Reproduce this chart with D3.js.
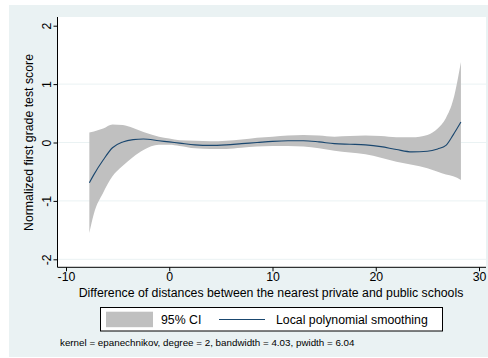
<!DOCTYPE html>
<html>
<head>
<meta charset="utf-8">
<script src="https://cdn.jsdelivr.net/npm/d3@7"></script>
<style>
  body { margin: 0; background: #fff; }
  text { font-family: "Liberation Sans", Arial, sans-serif; fill: #000; }
</style>
</head>
<body>
<div id="chart"></div>
<script>
// Data
const xVals = [-7.74, -7.3, -6.4, -5.5, -4.5, -3.5, -2.5, -1, 0, 1, 2.5, 4, 5.5, 7, 8.5, 10, 11.5, 13, 14.5, 16, 17.5, 19, 20.5, 22, 23.5, 25, 26, 26.8, 27.5, 28.25];
const fitVals = [-0.69, -0.55, -0.30, -0.09, 0.01, 0.05, 0.06, 0.03, 0.01, -0.01, -0.04, -0.05, -0.04, -0.02, 0.0, 0.02, 0.03, 0.03, 0.01, -0.02, -0.03, -0.04, -0.07, -0.12, -0.16, -0.15, -0.11, -0.05, 0.13, 0.35];
const hiVals = [0.17, 0.19, 0.24, 0.31, 0.30, 0.25, 0.18, 0.10, 0.07, 0.04, 0.03, 0.02, 0.03, 0.05, 0.08, 0.10, 0.12, 0.13, 0.12, 0.10, 0.11, 0.12, 0.11, 0.09, 0.09, 0.13, 0.24, 0.42, 0.73, 1.38];
const loVals = [-1.55, -1.22, -0.86, -0.58, -0.40, -0.25, -0.13, -0.04, -0.04, -0.06, -0.10, -0.11, -0.11, -0.09, -0.07, -0.06, -0.06, -0.07, -0.10, -0.14, -0.17, -0.20, -0.26, -0.33, -0.38, -0.44, -0.50, -0.55, -0.58, -0.64];
const xTicks = [-10, 0, 10, 20, 30];
const yTicks = [-2, -1, 0, 1, 2];
const gridTicks = [-2, -1, 0, 1];

const W = 488, H = 358;
const navy = "#1a476f", bandColor = "#c0c0c0", bg = "#eaf2f3";
const fs = "12.3px";

const svg = d3.select("#chart").append("svg")
  .attr("width", W).attr("height", H);

// outer background and plot region
svg.append("rect").attr("x", 9).attr("y", 5).attr("width", W - 9).attr("height", 352).attr("fill", bg);
svg.append("rect").attr("x", 57.5).attr("y", 17).attr("width", 428.5).attr("height", 250).attr("fill", "#fff");

const x = d3.scaleLinear().domain([-10, 30]).range([66, 479]);
const y = d3.scaleLinear().domain([-2, 2]).range([259.3, 25.7]);

// gridlines
svg.append("g").selectAll("line").data(gridTicks).enter().append("line")
  .attr("x1", 58).attr("x2", 486)
  .attr("y1", d => y(d)).attr("y2", d => y(d))
  .attr("stroke", bg).attr("stroke-width", 1);

const pts = xVals.map((v, i) => ({ x: v, fit: fitVals[i], hi: hiVals[i], lo: loVals[i] }));

// CI band
svg.append("path").datum(pts)
  .attr("fill", bandColor)
  .attr("d", d3.area().curve(d3.curveMonotoneX)
    .x(d => x(d.x)).y0(d => y(d.lo)).y1(d => y(d.hi)));

// fitted line
svg.append("path").datum(pts)
  .attr("fill", "none").attr("stroke", navy).attr("stroke-width", 1.1)
  .attr("d", d3.line().curve(d3.curveMonotoneX).x(d => x(d.x)).y(d => y(d.fit)));

// axes (plain hyphen minus, integer labels like the original)
const fmt = d => String(d);
const xAxis = svg.append("g").attr("transform", "translate(0,267.3)")
  .call(d3.axisBottom(x).tickValues(xTicks).tickFormat(fmt).tickSize(4).tickSizeOuter(0).tickPadding(1));
xAxis.select(".domain").attr("d", "M57.5,0H486");
xAxis.selectAll("text").style("font-size", fs).attr("font-family", null);

const yAxis = svg.append("g").attr("transform", "translate(57.5,0)")
  .call(d3.axisLeft(y).tickValues(yTicks).tickFormat(fmt).tickSize(4).tickSizeOuter(0));
yAxis.select(".domain").attr("d", "M0,17V267.3");
yAxis.selectAll("text")
  .style("font-size", fs)
  .attr("x", null)
  .attr("text-anchor", "middle")
  .attr("transform", "translate(-11,0) rotate(-90)")
  .attr("dy", "0.35em");
svg.selectAll(".domain, .tick line").attr("stroke", "#000");
svg.selectAll(".tick text").attr("font-family", null);

// axis titles
svg.append("text")
  .attr("x", 271).attr("y", 297)
  .attr("text-anchor", "middle")
  .style("font-size", fs)
  .text("Difference of distances between the nearest private and public schools");

svg.append("text")
  .attr("transform", "translate(33,142.5) rotate(-90)")
  .attr("text-anchor", "middle")
  .style("font-size", fs)
  .text("Normalized first grade test score");

// legend
const lg = svg.append("g");
lg.append("rect").attr("x", 100.5).attr("y", 307.5).attr("width", 342).attr("height", 23.5)
  .attr("fill", "#fff").attr("stroke", "#000").attr("stroke-width", 1);
lg.append("rect").attr("x", 106).attr("y", 311.7).attr("width", 47).attr("height", 15.5).attr("fill", bandColor);
lg.append("text").attr("x", 161).attr("y", 324).style("font-size", fs).text("95% CI");
lg.append("line").attr("x1", 219).attr("x2", 265).attr("y1", 319.5).attr("y2", 319.5)
  .attr("stroke", navy).attr("stroke-width", 1.1);
lg.append("text").attr("x", 276).attr("y", 324).style("font-size", fs).text("Local polynomial smoothing");

// note
svg.append("text")
  .attr("x", 60).attr("y", 346)
  .style("font-size", "9.8px")
  .text("kernel = epanechnikov, degree = 2, bandwidth = 4.03, pwidth = 6.04");
</script>
</body>
</html>
